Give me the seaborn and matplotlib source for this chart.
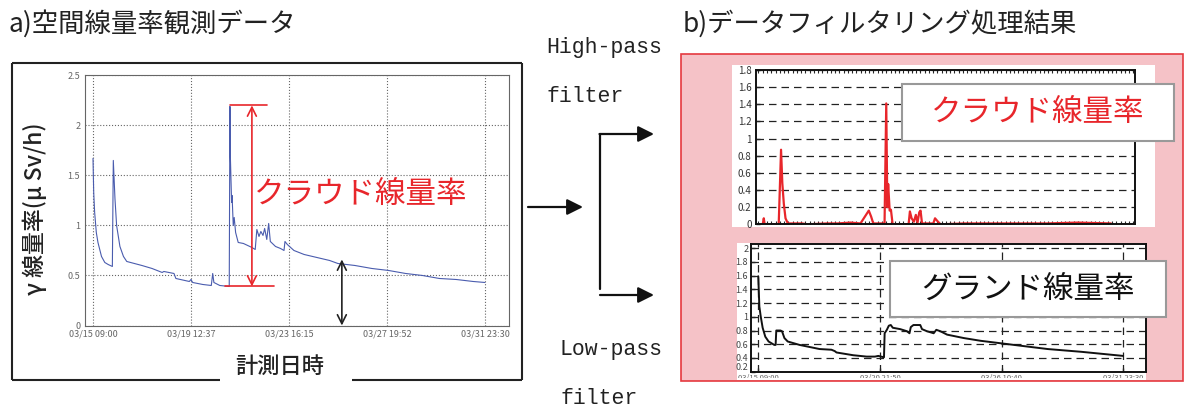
import pandas as pd
import matplotlib
matplotlib.use('Agg')
import matplotlib.pyplot as plt
import seaborn as sns
from matplotlib.patches import Rectangle
from matplotlib.ticker import MultipleLocator
from matplotlib.transforms import Bbox, TransformedBbox

# 元データ: 空間線量率 (経過日数 from 03/15 09:00, μSv/h)
blue_days = [0.00, 0.03, 0.07, 0.14, 0.21, 0.36, 0.50, 0.64, 0.82, 0.86, 0.93, 1.00,
             1.14, 1.29, 1.43, 2.07, 2.50, 2.93, 3.00, 3.43, 3.51, 4.08, 4.15, 4.22,
             4.65, 5.01, 5.07, 5.12, 5.37, 5.77, 5.80, 5.81, 5.82, 5.87, 5.89, 5.94,
             5.98, 6.04, 6.15, 6.37, 6.73, 6.87, 6.94, 7.03, 7.11, 7.20, 7.27, 7.36,
             7.44, 7.51, 7.73, 7.94, 8.09, 8.13, 8.23, 8.51, 8.94, 9.66, 10.02, 10.37,
             11.09, 11.81, 12.52, 13.24, 13.95, 14.67, 15.38, 16.10, 16.60]
blue_vals = [1.67, 1.33, 1.13, 0.93, 0.83, 0.69, 0.63, 0.61, 0.59, 1.65, 1.27, 1.00,
             0.79, 0.69, 0.64, 0.60, 0.57, 0.53, 0.54, 0.52, 0.47, 0.44, 0.46, 0.43,
             0.41, 0.40, 0.52, 0.43, 0.40, 0.39, 2.19, 1.74, 1.67, 1.23, 1.30, 1.00,
             1.08, 0.93, 0.83, 0.82, 0.78, 0.76, 0.96, 0.89, 0.94, 0.90, 0.97, 0.86,
             1.02, 0.84, 0.79, 0.77, 0.75, 0.84, 0.81, 0.75, 0.71, 0.67, 0.65, 0.62,
             0.60, 0.57, 0.55, 0.52, 0.50, 0.47, 0.46, 0.44, 0.43]

# High-pass (クラウド線量率)
red_days = [0.00, 0.05, 0.09, 0.75, 0.86, 0.92, 0.99, 1.07, 1.18, 1.85, 2.08, 3.02,
            3.50, 4.12, 4.59, 4.98, 5.09, 5.19, 5.72, 5.80, 5.85, 5.89, 5.96, 6.02,
            6.10, 6.85, 6.91, 6.99, 7.10, 7.19, 7.27, 7.35, 7.41, 7.48, 8.01, 8.09,
            8.23, 8.35, 9.45, 10.24, 11.80, 13.37, 14.78, 16.35]
red_vals = [0.00, 0.07, 0.00, 0.00, 0.87, 0.48, 0.24, 0.07, 0.01, 0.01, 0.00, 0.01,
            0.01, 0.02, 0.01, 0.16, 0.09, 0.01, 0.01, 1.41, 0.20, 0.47, 0.16, 0.17,
            0.00, 0.00, 0.15, 0.07, 0.03, 0.11, 0.02, 0.14, 0.16, 0.01, 0.01, 0.07,
            0.03, 0.00, 0.01, 0.01, 0.01, 0.01, 0.02, 0.01]

# Low-pass (グランド線量率)
black_days = [0.00, 0.05, 0.11, 0.20, 0.32, 0.47, 0.73, 0.79, 0.82, 1.01, 1.08, 1.19,
              1.34, 1.88, 2.79, 3.33, 3.48, 3.56, 4.32, 4.93, 5.31, 5.46, 5.72, 5.75,
              5.85, 5.94, 6.03, 6.12, 6.46, 6.76, 6.88, 6.94, 7.06, 7.37, 7.45, 7.67,
              7.98, 8.10, 8.28, 8.59, 9.35, 10.12, 10.88, 11.64, 13.17, 14.69, 16.60]
black_vals = [1.59, 1.15, 1.01, 0.84, 0.71, 0.64, 0.59, 0.59, 0.80, 0.80, 0.79, 0.69,
              0.64, 0.59, 0.53, 0.52, 0.50, 0.48, 0.44, 0.42, 0.42, 0.43, 0.41, 0.76,
              0.81, 0.87, 0.88, 0.84, 0.82, 0.79, 0.76, 0.85, 0.88, 0.88, 0.82, 0.79,
              0.76, 0.81, 0.79, 0.74, 0.69, 0.65, 0.62, 0.59, 0.53, 0.49, 0.43]

left_ticks = [0, 4.151, 8.302, 12.453, 16.604]
left_labels = ['03/15 09:00', '03/19 12:37', '03/23 16:15', '03/27 19:52', '03/31 23:30']
left_yticks = [0, 0.5, 1, 1.5, 2, 2.5]
left_ylabels = ['0', '0.5', '1', '1.5', '2', '2.5']
hp_yticks = [0, 0.2, 0.4, 0.6, 0.8, 1, 1.2, 1.4, 1.6, 1.8]
hp_ylabels = ['0', '0.2', '0.4', '0.6', '0.8', '1', '1.2', '1.4', '1.6', '1.8']
lp_ticks = [0, 5.535, 11.07, 16.604]
lp_labels = ['03/15 09:00', '03/20 21:50', '03/26 10:40', '03/31 23:30']
lp_yticks = [0.2, 0.4, 0.6, 0.8, 1, 1.2, 1.4, 1.6, 1.8, 2]
lp_ylabels = ['0.2', '0.4', '0.6', '0.8', '1', '1.2', '1.4', '1.6', '1.8', '2']

sns.set_theme(style='white')
plt.rcParams['font.family'] = ['Noto Sans CJK JP', 'DejaVu Sans']

W, H = 1186, 408
fig = plt.figure(figsize=(W / 100, H / 100), dpi=100)


def box(x0, y0, x1, y1):
    # ピクセル座標 -> figure座標
    return [x0 / W, 1 - y1 / H, (x1 - x0) / W, (y1 - y0) / H]


def pix_axes(z):
    a = fig.add_axes([0, 0, 1, 1], zorder=z)
    a.set_xlim(0, W)
    a.set_ylim(H, 0)
    a.axis('off')
    a.patch.set_alpha(0)
    return a


RED = '#e8262b'
mono = ['Liberation Mono', 'DejaVu Sans Mono']

# ---- 背景 (枠, 矢印, タイトル)
bg = pix_axes(-1)
bg.add_patch(Rectangle((681, 54), 502, 327, fc='#f5c2c7', ec='#e5393f', lw=1.2))
bg.add_patch(Rectangle((732, 65), 423, 162, fc='white', ec='none'))
bg.add_patch(Rectangle((737, 243), 409, 137, fc='white', ec='none'))

for xs, ys in [([12, 522], [63, 63]), ([12, 12], [63, 380]), ([522, 522], [63, 380]),
               ([12, 220], [380, 380]), ([352, 522], [380, 380])]:
    bg.plot(xs, ys, color='#222', lw=1.5, solid_capstyle='butt')

bg.text(8, 24, 'a)空間線量率観測データ', fontsize=19, va='center', ha='left', color='#222')
bg.text(683, 24, 'b)データフィルタリング処理結果', fontsize=19, va='center', ha='left', color='#222')

bg.text(546, 48, 'High-pass', family=mono, fontsize=15.5, va='center', color='#222')
bg.text(546, 97, 'filter', family=mono, fontsize=15.5, va='center', color='#222')
bg.text(560, 350, 'Low-pass', family=mono, fontsize=15.5, va='center', color='#222')
bg.text(560, 398, 'filter', family=mono, fontsize=15.5, va='center', color='#222')

arr = dict(arrowstyle='-|>', color='#111', lw=1.6, mutation_scale=24, shrinkA=0, shrinkB=0)
bg.annotate('', xy=(583, 207), xytext=(528, 207), arrowprops=arr)
bg.plot([600, 600], [134, 289], color='#111', lw=1.6)
bg.annotate('', xy=(654, 134), xytext=(599.5, 134), arrowprops=arr)
bg.annotate('', xy=(654, 295), xytext=(600, 295), arrowprops=arr)

# ---- a) 元データ
ax1 = fig.add_axes(box(84.5, 75.4, 509.5, 325.5))
df1 = pd.DataFrame({'day': blue_days, 'val': blue_vals})
sns.lineplot(data=df1, x='day', y='val', ax=ax1, color='#4a5cae', lw=0.8,
             sort=False, estimator=None)
ax1.set_xlim(-0.36, 17.64)
ax1.set_ylim(0, 2.5)
ax1.set_xticks(left_ticks)
ax1.set_xticklabels(left_labels)
ax1.set_yticks(left_yticks)
ax1.set_yticklabels(left_ylabels)
ax1.tick_params(length=0, pad=3, labelsize=6.5, labelcolor='#666')
ax1.grid(True, ls=':', color='#666', lw=0.8)
for s in ax1.spines.values():
    s.set_color('#666')
    s.set_linewidth(0.8)
ax1.set_ylabel('γ 線量率(μ Sv/h)', fontsize=16.5, color='#222', fontweight='medium')
ax1.yaxis.set_label_coords(-0.088, 0.466)
ax1.set_xlabel('計測日時', fontsize=16, color='#222', va='center', fontweight='medium')
ax1.xaxis.set_label_coords(0.46, -0.162)

ax1.plot([5.79, 7.37], [2.2, 2.2], color=RED, lw=1.2)
ax1.plot([5.58, 7.68], [0.39, 0.39], color=RED, lw=1.2)
ax1.annotate('', xy=(6.73, 2.2), xytext=(6.73, 0.39),
             arrowprops=dict(arrowstyle='<->', color=RED, lw=1.2, mutation_scale=16,
                             shrinkA=0, shrinkB=0))
ax1.annotate('', xy=(10.54, 0.66), xytext=(10.54, 0.0),
             arrowprops=dict(arrowstyle='<->', color='#222', lw=1.2, mutation_scale=16,
                             shrinkA=0, shrinkB=0))

# ---- b) High-pass
ax2 = fig.add_axes(box(755.7, 70, 1135, 224.3))
df2 = pd.DataFrame({'day': red_days, 'val': red_vals})
sns.lineplot(data=df2, x='day', y='val', ax=ax2, color=RED, lw=1.6,
             sort=False, estimator=None)
ax2.set_xlim(-0.33, 17.48)
ax2.set_ylim(0, 1.8)
ax2.set_xticks([])
ax2.xaxis.set_minor_locator(MultipleLocator(0.2))
ax2.set_yticks(hp_yticks)
ax2.set_yticklabels(hp_ylabels)
ax2.tick_params(axis='y', direction='in', length=3, width=1, pad=3, labelsize=7,
                labelcolor='#333', left=True)
ax2.tick_params(axis='x', which='minor', direction='in', length=2.5, width=0.8,
                top=True, bottom=True)
ax2.yaxis.grid(True, ls=(0, (6, 4)), color='#222', lw=0.9)
for s in ax2.spines.values():
    s.set_color('#111')
    s.set_linewidth(1.4)
ax2.set_xlabel('')
ax2.set_ylabel('')

# ---- b) Low-pass
ax3 = fig.add_axes(box(751, 244, 1146, 371.7))
df3 = pd.DataFrame({'day': black_days, 'val': black_vals})
sns.lineplot(data=df3, x='day', y='val', ax=ax3, color='#111', lw=1.4,
             sort=False, estimator=None)
ax3.set_xlim(-0.33, 17.64)
ax3.set_ylim(0.2, 2.06)
ax3.set_xticks(lp_ticks)
ax3.set_xticklabels(lp_labels)
ax3.set_yticks(lp_yticks)
ax3.set_yticklabels(lp_ylabels)
ax3.tick_params(direction='in', length=3, width=1, pad=2, labelsize=6.5,
                labelcolor='#444', left=True, bottom=True)
ax3.tick_params(axis='x', labelsize=5.5, labelcolor='#666', pad=1.5)
ax3.grid(True, ls=(0, (6, 4)), color='#222', lw=0.9)
for s in ax3.spines.values():
    s.set_color('#111')
    s.set_linewidth(1.4)
ax3.set_xlabel('')
ax3.set_ylabel('')
# 一番下の "0.2" は日時ラベルと重ならないよう少し上に
ax3.get_yticklabels()[0].set_va('bottom')
# 下端の日時ラベルは参照図と同様にピンク枠で切れる
clip = TransformedBbox(Bbox.from_extents(0, 1 - 378 / H, 1, 1), fig.transFigure)
for lbl in ax3.get_xticklabels():
    lbl.set_clip_on(True)
    lbl.set_clip_box(clip)

# ---- 前面ラベル
top = pix_axes(10)
top.text(254, 194, 'クラウド線量率', color=RED, fontsize=22, va='center', ha='left')
top.add_patch(Rectangle((902, 84), 272, 57, fc='white', ec='#999', lw=1.5))
top.text(1038, 112, 'クラウド線量率', color=RED, fontsize=22, va='center', ha='center')
top.add_patch(Rectangle((890, 261), 276, 56, fc='white', ec='#999', lw=1.5))
top.text(1028, 289, 'グランド線量率', color='#111', fontsize=22, va='center', ha='center')

fig.savefig('out.png', dpi=100)
